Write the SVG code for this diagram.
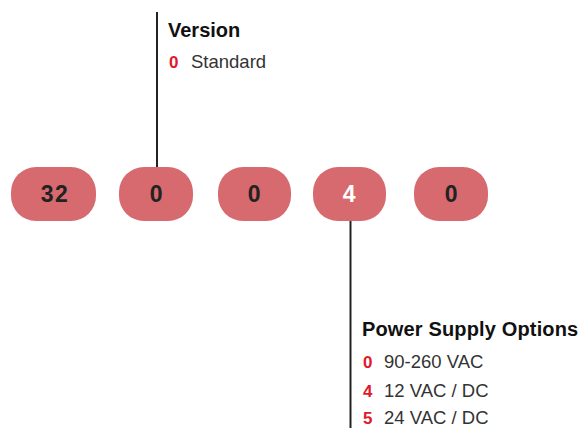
<svg xmlns="http://www.w3.org/2000/svg" width="581" height="428" viewBox="0 0 581 428">
<style>
.pill{fill:#d66a6e}
.pt{font-family:"Liberation Sans",Arial,sans-serif;font-size:23px;font-weight:bold;fill:#222;text-anchor:middle;letter-spacing:1.5px}
.h{font-family:"Liberation Sans",Arial,sans-serif;font-size:20px;font-weight:bold;fill:#111}
.k{font-family:"Liberation Sans",Arial,sans-serif;font-size:17px;font-weight:bold;fill:#e0192d}
.v{font-family:"Liberation Sans",Arial,sans-serif;font-size:18.5px;fill:#333}
.ln{stroke:#222;stroke-width:2;fill:none}
</style>
<rect width="581" height="428" fill="#fff"/>
<g id="connectors">
<line class="ln" x1="157" y1="12" x2="157" y2="168"/>
<line class="ln" x1="350.5" y1="220" x2="350.5" y2="428"/>
</g>
<g id="n32"><rect class="pill" x="11" y="167" width="85" height="54" rx="25"/><text class="pt" x="55" y="202">32</text></g>
<g id="n0a"><rect class="pill" x="119" y="167" width="74" height="54" rx="25"/><text class="pt" x="157" y="202">0</text></g>
<g id="n0b"><rect class="pill" x="218" y="167" width="73" height="54" rx="25"/><text class="pt" x="255" y="202">0</text></g>
<g id="n4"><rect class="pill" x="313" y="167" width="73" height="54" rx="25"/><text class="pt" x="350" y="202" style="fill:#fff">4</text></g>
<g id="n0c"><rect class="pill" x="414" y="167" width="74" height="54" rx="25"/><text class="pt" x="452" y="202">0</text></g>
<g id="version">
<text class="h" x="168" y="37">Version</text>
<text class="k" x="169" y="68">0</text><text class="v" x="191" y="68">Standard</text>
</g>
<g id="power">
<text class="h" x="362" y="336" style="letter-spacing:0.15px">Power Supply Options</text>
<text class="k" x="363" y="368">0</text><text class="v" x="384" y="368">90-260 VAC</text>
<text class="k" x="363" y="396.5">4</text><text class="v" x="384" y="396.5">12 VAC / DC</text>
<text class="k" x="363" y="424">5</text><text class="v" x="384" y="424">24 VAC / DC</text>
</g>
</svg>
